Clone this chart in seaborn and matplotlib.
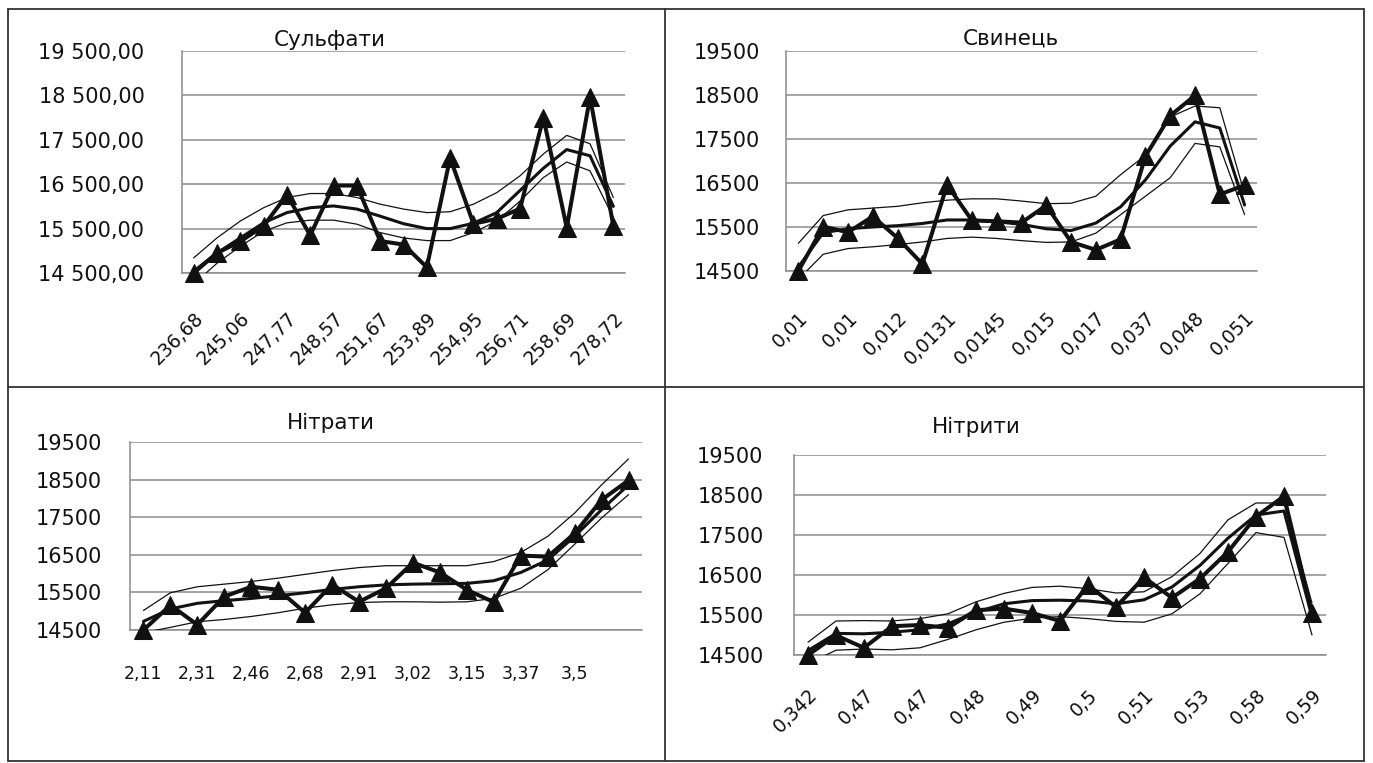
import numpy as np
import pandas as pd
import matplotlib
matplotlib.use("Agg")
import matplotlib.pyplot as plt
import seaborn as sns
from matplotlib.lines import Line2D
from matplotlib.ticker import FuncFormatter

sns.set_style("white")
plt.rcParams['font.family'] = ['DejaVu Sans']

# ---------------- data ----------------
titles = ["Сульфати", "Свинець", "Нітрати", "Нітрити"]

labels1 = ["236,68", "245,06", "247,77", "248,57", "251,67", "253,89",
           "254,95", "256,71", "258,69", "278,72"]
data1 = [14500, 14950, 15210, 15560, 16260, 15350, 16470, 16470, 15220, 15140,
         14630, 17090, 15610, 15720, 15950, 18000, 15520, 18460, 15560]
trend1 = [14540, 14950, 15290, 15630, 15860, 15970, 16010, 15940, 15780, 15610,
          15500, 15500, 15620, 15860, 16360, 16860, 17280, 17140, 16000]
upper1 = [14840, 15290, 15670, 15970, 16200, 16290, 16290, 16200, 16050, 15940,
          15860, 15880, 16050, 16310, 16690, 17180, 17600, 17410, 16200]
lower1 = [14250, 14720, 15100, 15440, 15630, 15690, 15690, 15600, 15410, 15290,
          15230, 15230, 15410, 15670, 16120, 16650, 17000, 16800, 15750]

labels2 = ["0,01", "0,01", "0,012", "0,0131", "0,0145", "0,015", "0,017",
           "0,037", "0,048", "0,051"]
data2 = [14500, 15510, 15380, 15740, 15250, 14660, 16460, 15650, 15630, 15600,
         15990, 15160, 14980, 15220, 17110, 18030, 18490, 16240, 16450]
trend2 = [14590, 15370, 15460, 15500, 15530, 15580, 15660, 15660, 15620, 15560,
          15460, 15420, 15590, 15960, 16570, 17340, 17890, 17750, 16000]
upper2 = [15130, 15760, 15890, 15930, 15970, 16050, 16110, 16140, 16140, 16090,
          16030, 16040, 16200, 16690, 17130, 18000, 18250, 18210, 16250]
lower2 = [14310, 14880, 15010, 15050, 15100, 15160, 15240, 15270, 15240, 15190,
          15150, 15160, 15360, 15780, 16200, 16620, 17400, 17320, 15780]

labels3 = ["2,11", "2,31", "2,46", "2,68", "2,91", "3,02", "3,15", "3,37", "3,5"]
data3 = [14500, 15160, 14640, 15390, 15650, 15570, 14960, 15710, 15250, 15610,
         16290, 16030, 15570, 15240, 16480, 16450, 17070, 17960, 18480]
trend3 = [14730, 15060, 15210, 15280, 15340, 15410, 15490, 15580, 15650, 15700,
          15720, 15730, 15740, 15810, 16030, 16360, 16990, 17700, 18360]
upper3 = [15020, 15490, 15650, 15720, 15790, 15880, 15980, 16080, 16160, 16210,
          16210, 16210, 16210, 16320, 16560, 16990, 17610, 18360, 19050]
lower3 = [14430, 14570, 14720, 14780, 14860, 14960, 15080, 15170, 15230, 15250,
          15250, 15240, 15250, 15340, 15610, 16100, 16780, 17480, 18100]

labels4 = ["0,342", "0,47", "0,47", "0,48", "0,49", "0,5", "0,51", "0,53",
           "0,58", "0,59"]
data4 = [14500, 14990, 14680, 15220, 15250, 15180, 15620, 15660, 15550, 15350,
         16250, 15700, 16440, 15930, 16410, 17080, 17960, 18470, 15550]
trend4 = [14610, 15040, 15030, 15070, 15130, 15280, 15570, 15780, 15860, 15870,
          15850, 15780, 15880, 16200, 16740, 17420, 18000, 18100, 15450]
upper4 = [14820, 15350, 15360, 15350, 15410, 15530, 15830, 16040, 16190, 16220,
          16160, 16050, 16080, 16460, 17040, 17880, 18300, 18300, 15800]
lower4 = [14280, 14620, 14650, 14630, 14680, 14890, 15130, 15320, 15420, 15460,
          15410, 15340, 15320, 15530, 16030, 16790, 17560, 17440, 15000]

yticks = [14500, 15500, 16500, 17500, 18500, 19500]

# ---------------- layout ----------------
W, H = 1373, 763
fig = plt.figure(figsize=(W / 100, H / 100), dpi=100)
GRID = '#8c8c8c'


def px_axes(l, r, t, b):
    return fig.add_axes([l / W, 1 - b / H, (r - l) / W, (b - t) / H])


def fmt_dec(v, _):
    s = f"{v:,.2f}"
    return s.replace(",", " ").replace(".", ",")


def fmt_int(v, _):
    return f"{int(round(v))}"


def draw(ax, data, trend, upper, lower, labels, rotate, fmt, ypad, xpad, xlsize):
    n = len(data)
    pos = np.arange(n)
    df = pd.DataFrame({
        'pos': np.tile(pos, 4),
        'value': list(upper) + list(lower) + list(trend) + list(data),
        'series': ['upper'] * n + ['lower'] * n + ['trend'] * n + ['data'] * n,
    })
    for s, lw in [('upper', 0.9), ('lower', 0.9), ('trend', 2.2)]:
        sns.lineplot(data=df[df.series == s], x='pos', y='value', ax=ax,
                     color='#111111', linewidth=lw, errorbar=None, zorder=3)
    sns.lineplot(data=df[df.series == 'data'], x='pos', y='value', ax=ax,
                 color='#111111', linewidth=2.9, marker='^', markersize=12.5,
                 markeredgecolor='#111111', errorbar=None, clip_on=False,
                 zorder=4)
    ax.set_xlim(-0.5, n - 0.5)
    ax.set_ylim(14500, 19500)
    ax.set_yticks(yticks)
    ax.yaxis.set_major_formatter(FuncFormatter(fmt))
    ax.yaxis.grid(True, color=GRID, linewidth=1.1)
    ax.xaxis.grid(False)
    ax.set_axisbelow(True)
    for sp in ['top', 'right']:
        ax.spines[sp].set_visible(False)
    for sp in ['left', 'bottom']:
        ax.spines[sp].set_color(GRID)
        ax.spines[sp].set_linewidth(1.1)
    ax.set_xticks(pos[::2][:len(labels)])
    ax.set_xticklabels(labels)
    ax.set_xticks(np.arange(-0.5, n, 1.0), minor=True)
    ax.tick_params(axis='x', which='major', length=0, pad=xpad,
                   labelsize=xlsize, labelcolor='#111111')
    ax.tick_params(axis='x', which='minor', length=8, color=GRID, width=1.1,
                   direction='out')
    ax.tick_params(axis='y', length=7, color=GRID, width=1.1, pad=ypad,
                   labelsize=15, labelcolor='#111111', direction='out')
    ax.set_xlabel('')
    ax.set_ylabel('')
    if rotate:
        for lab in ax.get_xticklabels():
            lab.set_rotation(45)
            lab.set_ha('right')
            lab.set_va('top')
            lab.set_rotation_mode('anchor')


ax1 = px_axes(182, 625, 51, 273)
draw(ax1, data1, trend1, upper1, lower1, labels1, True, fmt_dec, 20, 26, 13.5)
ax2 = px_axes(786, 1257, 51, 271)
draw(ax2, data2, trend2, upper2, lower2, labels2, True, fmt_int, 11.5, 27, 13.5)
ax3 = px_axes(130, 642, 442, 630)
draw(ax3, data3, trend3, upper3, lower3, labels3, False, fmt_int, 13, 25, 12.5)
ax4 = px_axes(794, 1326, 455, 655)
draw(ax4, data4, trend4, upper4, lower4, labels4, True, fmt_int, 15, 22, 13.5)

# titles
for (tx, ty), t in zip([(330, 40), (1011, 39), (331, 423), (976, 427)], titles):
    fig.text(tx / W, 1 - ty / H, t, ha='center', va='center', fontsize=15.5,
             color='#111111')

# table frame lines
def hline(y, x1, x2):
    fig.add_artist(Line2D([x1 / W, x2 / W], [1 - y / H, 1 - y / H],
                          transform=fig.transFigure, color='#333333', lw=1.3))


def vline(x, y1, y2):
    fig.add_artist(Line2D([x / W, x / W], [1 - y1 / H, 1 - y2 / H],
                          transform=fig.transFigure, color='#333333', lw=1.3))


hline(9, 8, 1364)
hline(387, 8, 1364)
hline(761, 8, 1364)
vline(8, 9, 761)
vline(665, 9, 761)
vline(1364, 9, 761)

fig.savefig("out.png", dpi=100)
